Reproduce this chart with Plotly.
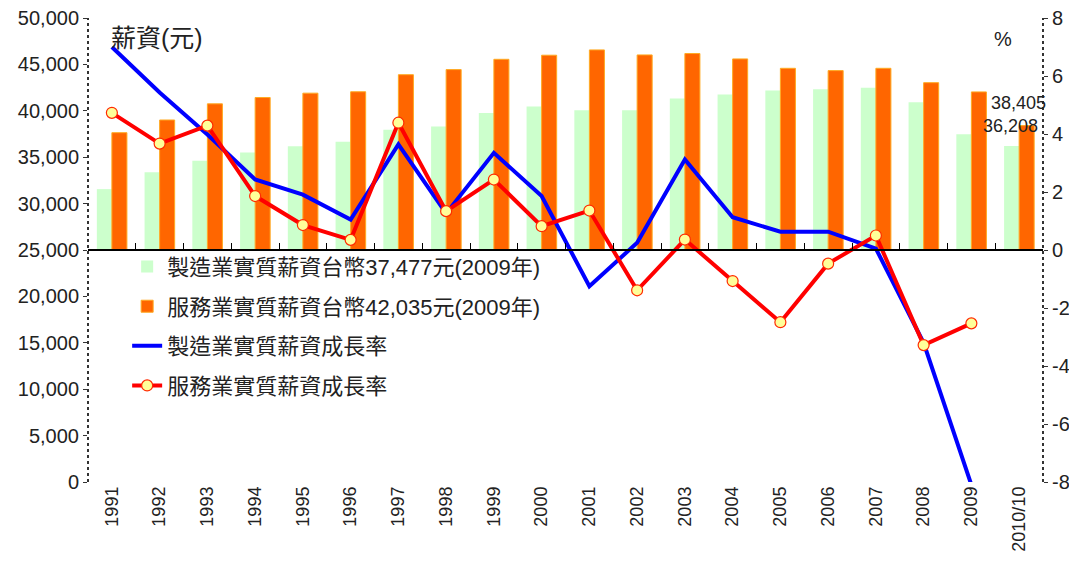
import plotly.graph_objects as go

categories = ['1991', '1992', '1993', '1994', '1995', '1996', '1997', '1998', '1999', '2000',
              '2001', '2002', '2003', '2004', '2005', '2006', '2007', '2008', '2009', '2010/10']

# 實質薪資 (元)
mfg_wage = [31560, 33370, 34630, 35500, 36190, 36660, 37960, 38320, 39770, 40460,
            40050, 40050, 41320, 41760, 42190, 42330, 42480, 40920, 37477, 36208]
svc_wage = [37640, 39010, 40750, 41430, 41900, 42050, 43890, 44440, 45550, 45990,
            46560, 46020, 46170, 45590, 44580, 44330, 44580, 43030, 42035, 38405]

# 實質薪資成長率 (%)
mfg_growth = [7.0, 5.43, 3.98, 2.43, 1.91, 1.05, 3.64, 1.26, 3.35, 1.86,
              -1.25, 0.25, 3.12, 1.13, 0.63, 0.63, 0.05, -3.2, -8.1, None]
svc_growth = [4.73, 3.67, 4.29, 1.86, 0.86, 0.35, 4.39, 1.34, 2.43, 0.82,
              1.36, -1.39, 0.36, -1.07, -2.49, -0.47, 0.5, -3.28, -2.53, None]

bar_base = 25000
left_ticks = list(range(0, 50001, 5000))
left_labels = [f'{v:,}' for v in left_ticks]
right_ticks = list(range(-8, 9, 2))
right_labels = [str(v) for v in right_ticks]

names = ['製造業實質薪資台幣37,477元(2009年)', '服務業實質薪資台幣42,035元(2009年)',
         '製造業實質薪資成長率', '服務業實質薪資成長率']

FONT = "Liberation Sans, Arial, 'Noto Sans CJK TC', sans-serif"
TXT = '#222222'

fig = go.Figure()
fig.add_trace(go.Bar(x=categories, y=[v - bar_base for v in mfg_wage], base=bar_base,
                     name=names[0], marker=dict(color='#ccffcc', line=dict(width=0)),
                     legendgroup='a', customdata=mfg_wage, hovertemplate='%{customdata}'))
fig.add_trace(go.Bar(x=categories, y=[v - bar_base for v in svc_wage], base=bar_base,
                     name=names[1], marker=dict(color='#ff6600', line=dict(color='#ffaa22', width=1)),
                     legendgroup='b', customdata=svc_wage, hovertemplate='%{customdata}'))
fig.add_trace(go.Scatter(x=categories, y=mfg_growth, yaxis='y2', mode='lines', name=names[2],
                         line=dict(color='#0000ff', width=4), legendgroup='c'))
fig.add_trace(go.Scatter(x=categories, y=svc_growth, yaxis='y2', mode='lines+markers', name=names[3],
                         line=dict(color='#ff0000', width=4),
                         marker=dict(size=11, color='#ffff99', line=dict(color='#ff2a00', width=1.2)),
                         legendgroup='d'))
# carrier trace for the middle category axis (at 25,000 / 0%)
fig.add_trace(go.Scatter(x=categories, y=[None] * len(categories), xaxis='x2', yaxis='y',
                         showlegend=False, hoverinfo='skip', mode='lines'))

fig.update_layout(
    width=1077, height=561,
    margin=dict(l=80, r=42, t=10, b=87, autoexpand=False),
    plot_bgcolor='white', paper_bgcolor='white',
    font=dict(family=FONT, color=TXT),
    barmode='group', bargap=0.37, bargroupgap=0,
    showlegend=True,
    legend=dict(x=0.041, y=0.509, xanchor='left', yanchor='top', bgcolor='rgba(0,0,0,0)',
                font=dict(size=22, family=FONT, color=TXT), tracegroupgap=8,
                traceorder='grouped', itemwidth=30),
    xaxis=dict(type='category', categoryorder='array', categoryarray=categories,
               range=[-0.5, len(categories) - 0.5], tickangle=-90, automargin=False,
               tickfont=dict(size=18, family=FONT, color=TXT), ticklabeloverflow='allow',
               showline=False, ticks='', showgrid=False, zeroline=False),
    xaxis2=dict(type='category', categoryorder='array', categoryarray=categories,
                range=[-0.5, len(categories) - 0.5], overlaying='x', anchor='free',
                position=0.5, side='bottom', showline=True, linecolor='black', linewidth=1.5,
                ticks='inside', ticklen=6, tickwidth=1, tickcolor='black', tickson='boundaries',
                showticklabels=False, showgrid=False, zeroline=False, automargin=False),
    yaxis=dict(range=[0, 50000], tickvals=left_ticks, ticktext=left_labels, automargin=False,
               tickfont=dict(size=20, family=FONT, color=TXT), ticklabeloverflow='allow',
               ticks='outside', ticklen=4, tickcolor='#333', showgrid=False, zeroline=False,
               showline=False),
    yaxis2=dict(range=[-8, 8], tickvals=right_ticks, ticktext=right_labels, overlaying='y',
                side='right', automargin=False, ticklabeloverflow='allow',
                tickfont=dict(size=20, family=FONT, color=TXT),
                ticks='outside', ticklen=4, tickcolor='#333', showgrid=False, zeroline=False,
                showline=False),
    shapes=[
        dict(type='line', xref='paper', yref='paper', x0=0, x1=0, y0=0, y1=1,
             line=dict(color='#333', width=2, dash='dot')),
        dict(type='line', xref='paper', yref='paper', x0=1, x1=1, y0=0, y1=1,
             line=dict(color='#333', width=2, dash='dot')),
    ],
    annotations=[
        dict(text='薪資(元)', xref='paper', yref='paper', x=0.022, y=0.957, xanchor='left',
             yanchor='middle', showarrow=False, font=dict(size=25, family=FONT, color=TXT)),
        dict(text='%', xref='paper', yref='paper', x=0.958, y=0.955, xanchor='center',
             yanchor='middle', showarrow=False, font=dict(size=20, family=FONT, color=TXT)),
        dict(text=f'{svc_wage[-1]:,}', x=categories[-1], y=svc_wage[-1], xref='x', yref='y',
             showarrow=False, xshift=-1, yshift=23, font=dict(size=18, family=FONT, color=TXT)),
        dict(text=f'{mfg_wage[-1]:,}', x=categories[-1], y=mfg_wage[-1], xref='x', yref='y',
             showarrow=False, xshift=-9, yshift=20, font=dict(size=18, family=FONT, color=TXT)),
    ],
)

fig.write_html('out.html')
